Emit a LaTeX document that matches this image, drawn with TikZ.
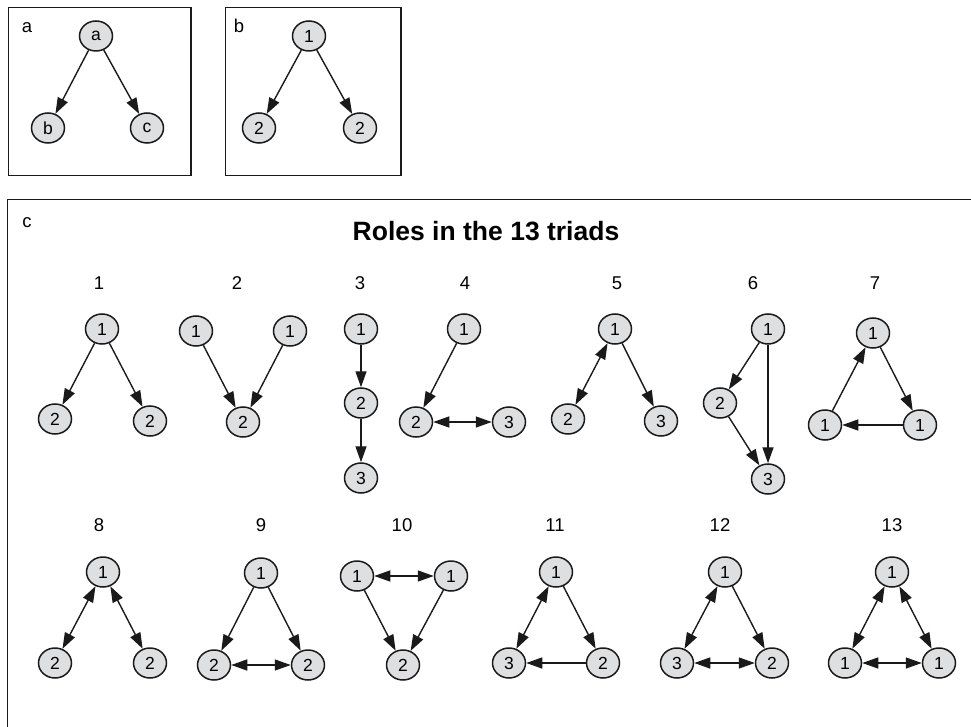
\documentclass[tikz,border=0pt]{standalone}
\usepackage{fontspec}
\setmainfont{Liberation Sans}
\usetikzlibrary{arrows.meta,shapes.geometric}
\definecolor{ndfill}{HTML}{DEDFE1}
\definecolor{ink}{HTML}{1A1A1A}
\tikzset{
  nd/.style={ellipse, draw=ink, line width=1.5pt, fill=ndfill, minimum width=33pt, minimum height=30pt, inner sep=0pt, font=\fontsize{17.5}{17.5}\selectfont},
  ed/.style={draw=ink, line width=1.4pt, -{Triangle[length=16pt,width=11pt]}},
  bi/.style={draw=ink, line width=1.4pt, {Triangle[length=16pt,width=11pt]}-{Triangle[length=16pt,width=11pt]}},
  lbl/.style={inner sep=0pt, font=\fontsize{18.5}{18.5}\selectfont},
  panel/.style={draw=ink, line width=1.4pt},
  ttl/.style={inner sep=0pt, font=\fontsize{26.5}{26.5}\selectfont\bfseries}
}
\begin{document}
\begin{tikzpicture}[x=1pt,y=-1pt]
\useasboundingbox (0,0) rectangle (971,727);
% panels
\draw[panel] (8.3,7.3) rectangle (191,175.7);
\draw[panel] (225.7,7.3) rectangle (401,175.7);
\draw[panel] (7.5,199.5) rectangle (990,745);
\node[lbl] (la) at (27,28) {a};
\node[lbl] (lb) at (239,26) {b};
\node[lbl] (lc) at (27,223) {c};
\node[ttl] (title) at (486,231) {Roles in the 13 triads};
% panel a
\node[nd] (aa) at (96,36) {a};
\node[nd] (ab) at (48,128) {b};
\node[nd] (ac) at (147,128) {c};
\draw[ed] (aa) -- (ab);
\draw[ed] (aa) -- (ac);
% panel b
\node[nd] (b1) at (309,36) {1};
\node[nd] (b2) at (259,128) {2};
\node[nd] (b3) at (360,128) {2};
\draw[ed] (b1) -- (b2);
\draw[ed] (b1) -- (b3);
% triad labels
\node[lbl] (t1) at (99,283) {1};
\node[lbl] (t2) at (237,283) {2};
\node[lbl] (t3) at (360,283) {3};
\node[lbl] (t4) at (465,283) {4};
\node[lbl] (t5) at (617,283) {5};
\node[lbl] (t6) at (753,283) {6};
\node[lbl] (t7) at (875,283) {7};
\node[lbl] (t8) at (99,525) {8};
\node[lbl] (t9) at (261,525) {9};
\node[lbl] (t10) at (402,525) {10};
\node[lbl] (t11) at (555,525) {11};
\node[lbl] (t12) at (720,525) {12};
\node[lbl] (t13) at (892,525) {13};
% triad 1
\node[nd] (p1a) at (102,329) {1};
\node[nd] (p1b) at (55,419) {2};
\node[nd] (p1c) at (150,421) {2};
\draw[ed] (p1a) -- (p1b);
\draw[ed] (p1a) -- (p1c);
% triad 2
\node[nd] (p2a) at (196,331) {1};
\node[nd] (p2b) at (290,331) {1};
\node[nd] (p2c) at (243,422) {2};
\draw[ed] (p2a) -- (p2c);
\draw[ed] (p2b) -- (p2c);
% triad 3
\node[nd] (p3a) at (361,329) {1};
\node[nd] (p3b) at (361,403) {2};
\node[nd] (p3c) at (361,478) {3};
\draw[ed] (p3a) -- (p3b);
\draw[ed] (p3b) -- (p3c);
% triad 4
\node[nd] (p4a) at (464,329) {1};
\node[nd] (p4b) at (416,422) {2};
\node[nd] (p4c) at (509,422) {3};
\draw[ed] (p4a) -- (p4b);
\draw[bi] (p4b) -- (p4c);
% triad 5
\node[nd] (p5a) at (615,329) {1};
\node[nd] (p5b) at (568,419) {2};
\node[nd] (p5c) at (661,421) {3};
\draw[bi] (p5a) -- (p5b);
\draw[ed] (p5a) -- (p5c);
% triad 6
\node[nd] (p6a) at (768,329) {1};
\node[nd] (p6b) at (720,403) {2};
\node[nd] (p6c) at (768,479) {3};
\draw[ed] (p6a) -- (p6b);
\draw[ed] (p6b) -- (p6c);
\draw[ed] (p6a) -- (p6c);
% triad 7
\node[nd] (p7a) at (873,333) {1};
\node[nd] (p7b) at (825,425) {1};
\node[nd] (p7c) at (920,425) {1};
\draw[ed] (p7b) -- (p7a);
\draw[ed] (p7a) -- (p7c);
\draw[ed] (p7c) -- (p7b);
% triad 8
\node[nd] (p8a) at (103,572) {1};
\node[nd] (p8b) at (55,663) {2};
\node[nd] (p8c) at (150,663) {2};
\draw[bi] (p8a) -- (p8b);
\draw[bi] (p8a) -- (p8c);
% triad 9
\node[nd] (p9a) at (261,573) {1};
\node[nd] (p9b) at (214,665) {2};
\node[nd] (p9c) at (308,665) {2};
\draw[ed] (p9a) -- (p9b);
\draw[ed] (p9a) -- (p9c);
\draw[bi] (p9b) -- (p9c);
% triad 10
\node[nd] (p10a) at (357,576) {1};
\node[nd] (p10b) at (451,576) {1};
\node[nd] (p10c) at (403,665) {2};
\draw[bi] (p10a) -- (p10b);
\draw[ed] (p10a) -- (p10c);
\draw[ed] (p10b) -- (p10c);
% triad 11
\node[nd] (p11a) at (556,572) {1};
\node[nd] (p11b) at (509,663) {3};
\node[nd] (p11c) at (603,663) {2};
\draw[bi] (p11a) -- (p11b);
\draw[ed] (p11a) -- (p11c);
\draw[ed] (p11c) -- (p11b);
% triad 12
\node[nd] (p12a) at (725,572) {1};
\node[nd] (p12b) at (677,663) {3};
\node[nd] (p12c) at (772,663) {2};
\draw[bi] (p12a) -- (p12b);
\draw[ed] (p12a) -- (p12c);
\draw[bi] (p12b) -- (p12c);
% triad 13
\node[nd] (p13a) at (892,572) {1};
\node[nd] (p13b) at (845,663) {1};
\node[nd] (p13c) at (939,663) {1};
\draw[bi] (p13a) -- (p13b);
\draw[bi] (p13a) -- (p13c);
\draw[bi] (p13b) -- (p13c);
\end{tikzpicture}
\end{document}
